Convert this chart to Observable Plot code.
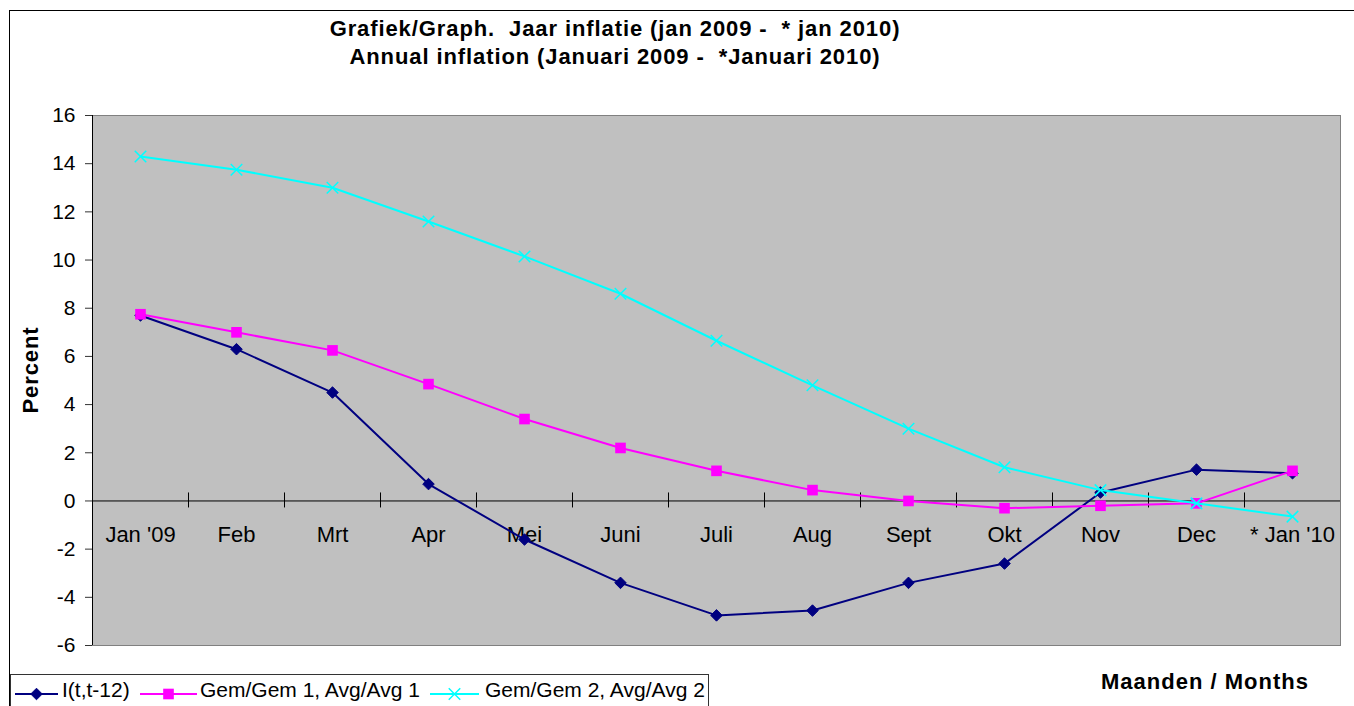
<!DOCTYPE html>
<html><head><meta charset="utf-8">
<script src="https://cdn.jsdelivr.net/npm/d3@7"></script>
<script src="https://cdn.jsdelivr.net/npm/@observablehq/plot@0.6"></script>
<style>
html,body{margin:0;padding:0;background:#fff;overflow:hidden;}
body{width:1354px;height:706px;position:relative;font-family:"Liberation Sans",Arial,sans-serif;color:#000;}
#chart{position:absolute;left:0;top:0;}
.abs{position:absolute;white-space:pre;}
.title{font-weight:bold;font-size:22px;line-height:22px;letter-spacing:0.9px;transform:translateX(-50%);}
.leg{font-size:21px;line-height:21px;}
</style></head><body>
<div style="position:absolute;left:9px;top:10px;width:2000px;height:1000px;border-left:1px solid #000;border-top:1px solid #000;"></div>
<div id="chart"></div>
<div id="overlay"></div>
<script>
const months = ["Jan '09","Feb","Mrt","Apr","Mei","Juni","Juli","Aug","Sept","Okt","Nov","Dec","* Jan '10"];
const inflation = [7.7, 6.3, 4.5, 0.7, -1.6, -3.4, -4.75, -4.55, -3.4, -2.6, 0.35, 1.3, 1.15];
const avg1 = [7.75, 7.0, 6.25, 4.85, 3.4, 2.2, 1.25, 0.45, 0.0, -0.3, -0.2, -0.1, 1.25];
const avg2 = [14.3, 13.75, 13.0, 11.6, 10.15, 8.6, 6.65, 4.8, 3.0, 1.4, 0.45, -0.1, -0.65];
const seriesNames = ["I(t,t-12)", "Gem/Gem 1, Avg/Avg 1", "Gem/Gem 2, Avg/Avg 2"];
const seriesColors = ["#000080", "#FF00FF", "#00FFFF"];
const yTicks = [-6,-4,-2,0,2,4,6,8,10,12,14,16];
const titleLines = ["Grafiek/Graph.  Jaar inflatie (jan 2009 -  * jan 2010)", "Annual inflation (Januari 2009 -  *Januari 2010)"];
const yLabel = "Percent";
const xLabel = "Maanden / Months";

const seriesValues = [inflation, avg1, avg2];
const rows = seriesValues.flatMap((vals, s) => vals.map((v, i) => ({series: seriesNames[s], month: months[i], i, value: v})));
const bySeries = s => rows.filter(r => r.series === seriesNames[s]);
const bounds = d3.range(1, months.length).map(i => i - 0.5);
const xDom = [-0.5, months.length - 0.5];

const markStyles = [
  {symbol: "diamond2", r: 5.2, fill: seriesColors[0], stroke: seriesColors[0], strokeWidth: 1},
  {symbol: "square", r: 6.0, fill: seriesColors[1], stroke: "none"},
  {symbol: "times", r: 5.3, fill: "none", stroke: seriesColors[2], strokeWidth: 1.5}
];

const seriesMarks = [0,1,2].flatMap(s => [
  Plot.line(bySeries(s), {x: "i", y: "value", stroke: seriesColors[s], strokeWidth: 2}),
  Plot.dot(bySeries(s), {x: "i", y: "value", ...markStyles[s]})
]);

const chart = Plot.plot({
  width: 1354, height: 706,
  marginLeft: 92, marginRight: 14, marginTop: 115, marginBottom: 61,
  style: {fontFamily: '"Liberation Sans", Arial, sans-serif', background: "transparent", color: "#000"},
  x: {domain: xDom, axis: null},
  y: {domain: [yTicks[0], yTicks[yTicks.length-1]], axis: null},
  marks: [
    Plot.frame({fill: "#C0C0C0", stroke: "#808080"}),
    Plot.ruleX([xDom[0]], {stroke: "#000"}),
    Plot.axisY(yTicks, {anchor: "left", tickSize: 7, tickPadding: 10, fontSize: 21, stroke: "#333", fill: "#000", label: null, tickFormat: d => String(d)}),
    Plot.ruleY([0], {stroke: "#000"}),
    Plot.ruleX(bounds, {y1: 0, y2: 0, insetTop: -8, insetBottom: -7, stroke: "#000"}),
    Plot.text(months, {x: (d, i) => i, y: 0, dy: 34, text: d => d, fontSize: 22, fill: "#000"}),
    ...seriesMarks
  ]
});
document.getElementById("chart").appendChild(chart);

const ov = document.getElementById("overlay");
function addDiv(cls, text, css) {
  const d = document.createElement("div");
  d.className = "abs " + cls;
  d.textContent = text;
  Object.assign(d.style, css);
  ov.appendChild(d);
  return d;
}
addDiv("title", titleLines[0], {left: "615px", top: "18px"});
addDiv("title", titleLines[1], {left: "615px", top: "46px"});
addDiv("", yLabel, {left: "31px", top: "370px", fontWeight: "bold", fontSize: "22px", lineHeight: "22px", letterSpacing: "0.9px", transform: "translate(-50%,-50%) rotate(-90deg)"});
addDiv("", xLabel, {left: "1101px", top: "671px", fontWeight: "bold", fontSize: "22px", lineHeight: "22px", letterSpacing: "1px"});

// legend box
const box = document.createElement("div");
Object.assign(box.style, {position: "absolute", left: "10px", top: "674px", width: "697px", height: "60px", border: "1px solid #333", background: "#fff"});
ov.appendChild(box);
const legendPos = [{sx: 15, sw: 43, tx: 62}, {sx: 140, sw: 57, tx: 200}, {sx: 430, sw: 49, tx: 485}];
legendPos.forEach((p, s) => {
  const svg = d3.create("svg").attr("width", p.sw).attr("height", 16)
    .style("position", "absolute").style("left", p.sx + "px").style("top", "686px");
  svg.append("line").attr("x1", 0).attr("x2", p.sw).attr("y1", 8).attr("y2", 8)
    .attr("stroke", seriesColors[s]).attr("stroke-width", 2);
  const m = markStyles[s];
  const symMap = {diamond2: d3.symbolDiamond2, square: d3.symbolSquare, times: d3.symbolTimes};
  svg.append("path").attr("transform", `translate(${p.sw/2},8)`)
    .attr("d", d3.symbol(symMap[m.symbol], m.r * m.r * Math.PI)())
    .attr("fill", m.fill).attr("stroke", m.stroke).attr("stroke-width", m.strokeWidth || 0);
  ov.appendChild(svg.node());
  addDiv("leg", seriesNames[s], {left: p.tx + "px", top: "679px"});
});
</script>
</body></html>
